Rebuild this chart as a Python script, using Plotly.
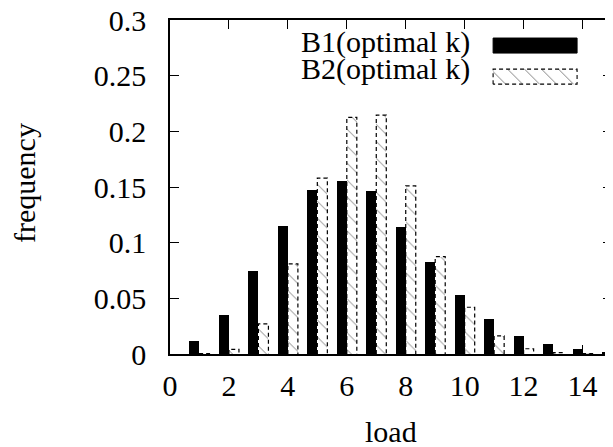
import plotly.graph_objects as go

# ---- data ----
loads = [1, 2, 3, 4, 5, 6, 7, 8, 9, 10, 11, 12, 13, 14, 15]
b1_freq = [0.012, 0.035, 0.0745, 0.115, 0.147, 0.155, 0.1466, 0.114, 0.083,
           0.0534, 0.031, 0.016, 0.0087, 0.0045, 0.0018]
b2_freq = [0.0003, 0.0042, 0.027, 0.081, 0.158, 0.2125, 0.2145, 0.151, 0.0874,
           0.042, 0.0162, 0.0047, 0.0012, 0.0003, 0.0]
series_names = ["B1(optimal k)", "B2(optimal k)"]
y_ticks = [0, 0.05, 0.1, 0.15, 0.2, 0.25, 0.3]
y_ticktext = ["0", "0.05", "0.1", "0.15", "0.2", "0.25", "0.3"]
x_ticks = [0, 2, 4, 6, 8, 10, 12, 14]

FONT = "Liberation Serif"
FS = 30
BW = 0.34  # bar width in load units
HATCH = dict(shape="\\", size=12, solidity=0.08, fgcolor="black", bgcolor="white")

fig = go.Figure()

# B1: solid black bars, left of each integer load
fig.add_trace(go.Bar(
    x=loads, y=b1_freq, name=series_names[0],
    width=BW, offset=-BW,
    marker=dict(color="black", line=dict(width=0)),
    showlegend=False,
))

# B2: hatched bars, right of each integer load
fig.add_trace(go.Bar(
    x=loads, y=b2_freq, name=series_names[1],
    width=BW, offset=0,
    marker=dict(color="white", line=dict(width=0), pattern=HATCH),
    showlegend=False,
))

# dashed outlines of the B2 bars, derived from the data
ox, oy = [], []
for x, v in zip(loads, b2_freq):
    if v <= 0:
        continue
    ox += [x, x, x + BW, x + BW, None]
    oy += [0, v, v, 0, None]
fig.add_trace(go.Scatter(
    x=ox, y=oy, mode="lines", hoverinfo="skip", showlegend=False,
    line=dict(color="black", width=1.2, dash="4px,3px"),
))

# ---- custom gnuplot-style key (text on the left, sample on the right) ----
sx0, sx1 = 0.731, 0.921
fig.add_trace(go.Scatter(
    x=[sx0, sx0, sx1, sx1, sx0], y=[0.901, 0.946, 0.946, 0.901, 0.901],
    xaxis="x2", yaxis="y2", mode="lines", fill="toself",
    fillcolor="black", line=dict(color="black", width=1),
    hoverinfo="skip", showlegend=False,
))
fig.add_trace(go.Scatter(
    x=[sx0, sx0, sx1, sx1, sx0], y=[0.808, 0.853, 0.853, 0.808, 0.808],
    xaxis="x2", yaxis="y2", mode="lines", fill="toself",
    fillcolor="white", fillpattern=HATCH,
    line=dict(color="black", width=1.1, dash="4px,3px"),
    hoverinfo="skip", showlegend=False,
))

annotations = [
    dict(text=series_names[0], xref="paper", yref="paper", x=0.683, y=0.935,
         xanchor="right", yanchor="middle", showarrow=False,
         font=dict(family=FONT, size=FS, color="black")),
    dict(text=series_names[1], xref="paper", yref="paper", x=0.683, y=0.852,
         xanchor="right", yanchor="middle", showarrow=False,
         font=dict(family=FONT, size=FS, color="black")),
    dict(text="load", xref="paper", yref="paper", x=0.5, y=-0.232,
         xanchor="center", yanchor="middle", showarrow=False,
         font=dict(family=FONT, size=FS, color="black")),
    dict(text="frequency", xref="paper", yref="paper", x=-0.328, y=0.512,
         xanchor="center", yanchor="middle", showarrow=False, textangle=-90,
         font=dict(family=FONT, size=FS, color="black")),
]

axis_common = dict(
    showline=True, linecolor="black", linewidth=1.5, mirror="allticks",
    ticks="inside", ticklen=9, tickwidth=1.2, tickcolor="black",
    showgrid=False, zeroline=False, automargin=False,
    ticklabeloverflow="allow",
    tickfont=dict(family=FONT, size=FS, color="black"),
)

# the page body adds an 8px offset, so the figure is 8px smaller
fig.update_layout(
    width=605, height=439,
    margin=dict(l=162, r=1, t=12, b=93, autoexpand=False),
    font=dict(family=FONT, size=FS, color="black"),
    paper_bgcolor="white", plot_bgcolor="white",
    barmode="overlay", bargap=0,
    xaxis=dict(range=[0, 15], tickvals=x_ticks, ticklabelstandoff=4,
               **axis_common),
    yaxis=dict(range=[0, 0.3], tickvals=y_ticks, ticktext=y_ticktext,
               ticklabelstandoff=16, **axis_common),
    xaxis2=dict(overlaying="x", range=[0, 1], visible=False, fixedrange=True),
    yaxis2=dict(overlaying="y", range=[0, 1], visible=False, fixedrange=True),
    annotations=annotations,
    showlegend=False,
)

fig.write_html("out.html")
